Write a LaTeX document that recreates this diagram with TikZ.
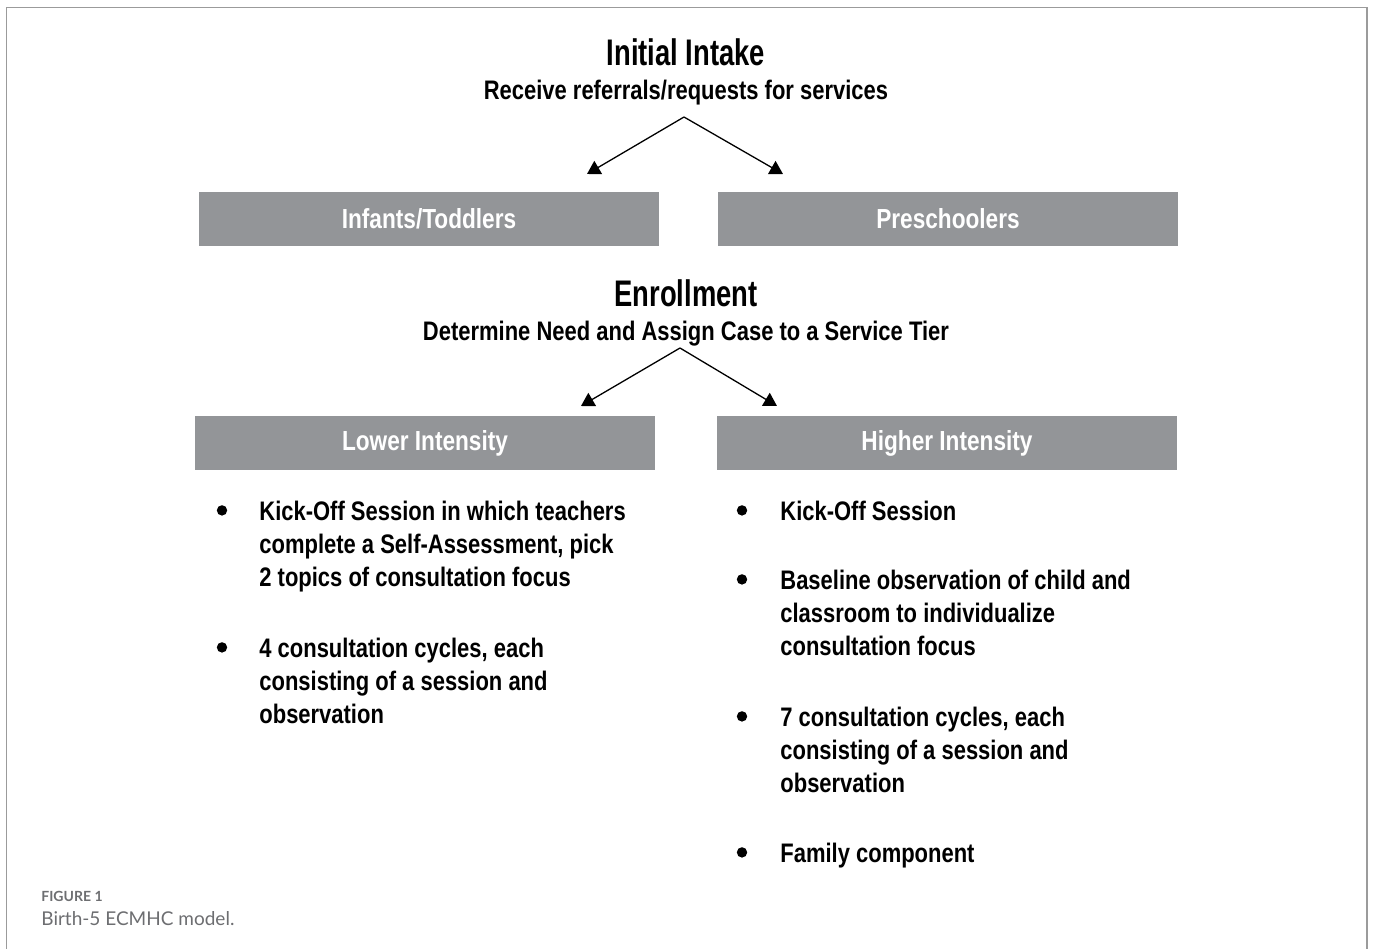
\documentclass[tikz,border=0pt]{standalone}
\usepackage{fontspec}
\setmainfont{Liberation Sans}
\newfontfamily\condfont{Liberation Sans}[FakeStretch=0.82]
\newfontfamily\headfont{Liberation Sans}[FakeStretch=0.74]
\newfontfamily\capfont{Lato}
\usetikzlibrary{positioning,arrows.meta,calc}
\definecolor{tiergray}{HTML}{939598}
\definecolor{framegray}{HTML}{9B9B9B}
\definecolor{capgray}{HTML}{6D6E71}
\newcommand{\stack}[1]{\begin{tabular}[t]{@{}l@{}}#1\end{tabular}}

\begin{document}
\begin{tikzpicture}[x=0.5pt, y=-0.5pt,
    >={Triangle[length=6.5pt, width=7.5pt]},
    every node/.style={inner sep=0pt},
    head/.style={anchor=base, font=\headfont\bfseries\fontsize{18.5}{20}\selectfont},
    sub/.style={anchor=base, font=\condfont\bfseries\fontsize{13.4}{15}\selectfont},
    tier/.style={fill=tiergray, text=white, minimum width=230pt, minimum height=27pt,
                 font=\condfont\bfseries\fontsize{13.8}{15}\selectfont},
    item/.style={anchor=base west, font=\condfont\bfseries\fontsize{13.4}{16.5}\selectfont},
    dot/.style={circle, fill, minimum size=5.2pt},
    fork/.style={->, line width=0.65pt}]
  \useasboundingbox (0,0) rectangle (1373,949);
  \draw[framegray, line width=0.75pt] (6.5,949) |- (1367,7.5) -- (1367,949);

  % intake and the two age groups
  \node[head] (intake) at (686,65) {Initial Intake};
  \node[sub] (intakesub) at (686,99) {Receive referrals/requests for services};
  \coordinate (fork1) at (684,117);
  \coordinate (tipit) at (587,174);
  \coordinate (tipps) at (783,174);
  \draw[fork] (fork1) -- (tipit);
  \draw[fork] (fork1) -- (tipps);
  \node[tier] (infants) at (429,219) {Infants/Toddlers};
  \node[tier] (preschool) at (948,219) {Preschoolers};

  % enrollment and the service tiers
  \node[head] (enroll) at (686,306) {Enrollment};
  \node[sub] (enrollsub) at (686,340) {Determine Need and Assign Case to a Service Tier};
  \coordinate (fork2) at (680,348);
  \coordinate (tiplo) at (581,406);
  \coordinate (tiphi) at (777,406);
  \draw[fork] (fork2) -- (tiplo);
  \draw[fork] (fork2) -- (tiphi);
  \node[tier] (lower) at (425,443) {Lower Intensity};
  \node[tier] (higher) at (947,443) {Higher Intensity};

  % what each tier offers
  \node[item] (lo1) at (259,520) {\stack{Kick-Off Session in which teachers\\complete a Self-Assessment, pick\\2 topics of consultation focus}};
  \node[item] (lo2) at (259,657) {\stack{4 consultation cycles, each\\consisting of a session and\\observation}};
  \node[item] (hi1) at (780,520) {Kick-Off Session};
  \node[item] (hi2) at (780,589) {\stack{Baseline observation of child and\\classroom to individualize\\consultation focus}};
  \node[item] (hi3) at (780,726) {\stack{7 consultation cycles, each\\consisting of a session and\\observation}};
  \node[item] (hi4) at (780,862) {Family component};
  \foreach \n in {lo1,lo2} \node[dot] at ([xshift=-18.5pt, yshift=4.8pt]\n.base west) {};
  \foreach \n in {hi1,hi2,hi3,hi4} \node[dot] at ([xshift=-19pt, yshift=4.8pt]\n.base west) {};

  % caption
  \node[anchor=base west, text=capgray, font=\capfont\bfseries\fontsize{7}{8}\selectfont] (fignum) at (41,901) {FIGURE 1};
  \node[anchor=base west, text=capgray, font=\capfont\fontsize{9.5}{11}\selectfont] (figcap) at (41,925) {Birth-5 ECMHC model.};
\end{tikzpicture}
\end{document}
